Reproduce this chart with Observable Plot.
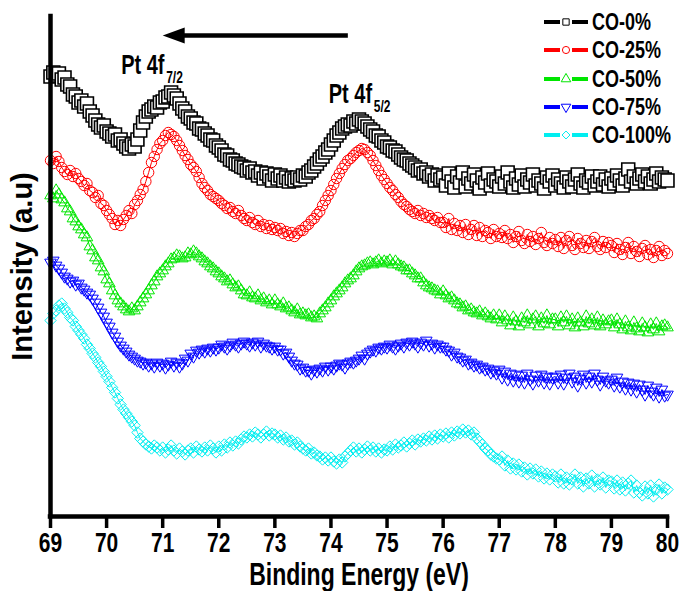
<!DOCTYPE html>
<html>
<head>
<meta charset="utf-8">
<script src="https://cdn.jsdelivr.net/npm/d3@7"></script>
<script src="https://cdn.jsdelivr.net/npm/@observablehq/plot@0.6"></script>
<style>
  body { margin: 0; background: #fff; }
  #wrap { position: relative; width: 680px; height: 591px; overflow: hidden; }
  #legend { position: absolute; left: 540px; top: 8px; font-family: "Liberation Sans", Arial, sans-serif; font-weight: bold; }
  .lg-row { position: absolute; left: 0; height: 28px; width: 140px; display: flex; align-items: center; white-space: nowrap; }
  .lg-row span { display: inline-block; font-size: 18px; color: #000; margin-left: 2px; line-height: 28px; transform: scaleY(1.35); transform-origin: 0 55%; }
</style>
</head>
<body>
<div id="wrap"><div id="chart"></div><div id="legend"></div></div>
<script>
// ---- energy grid (eV) ----
const eStart = 69;
const eStep = 0.05;
const xTicks = [69, 70, 71, 72, 73, 74, 75, 76, 77, 78, 79, 80];

// ---- series (intensity, a.u.), one value every 0.05 eV from 69.00 to 80.00 ----
const co0 = [
  440,444,441,443,437,439,432,430,422,420,414,416,410,413,405,401,396,392,389,391,
  385,383,380,382,376,377,373,370,368,372,370,377,386,394,400,405,407,410,409,414,
  415,419,420,424,421,418,413,408,405,400,398,394,393,388,387,383,381,377,376,371,
  369,366,362,361,357,356,353,352,350,349,346,348,344,345,341,344,338,343,340,336,
  342,338,341,336,339,335,338,336,339,337,341,340,344,346,350,353,357,360,364,367,
  372,376,381,384,388,390,392,391,395,393,397,395,393,390,387,385,381,380,376,374,
  370,369,366,365,362,359,357,356,353,351,349,346,347,343,344,340,342,336,341,337,
  339,331,343,335,329,340,334,344,330,338,333,342,336,328,339,334,343,331,337,335,
  330,340,333,344,335,329,338,332,341,330,337,334,342,331,336,333,328,339,335,341,
  331,337,333,329,339,335,330,337,342,333,329,336,334,340,331,335,340,332,337,330,
  338,333,341,336,331,338,347,335,340,333,338,342,335,340,333,337,343,335,339,337,
  336
];
const co25 = [
  356,353,360,355,349,345,342,346,340,343,338,335,331,333,326,324,319,321,313,311,
  306,302,298,292,296,291,297,301,306,303,312,316,322,327,335,344,354,360,367,373,
  376,381,384,382,380,376,371,366,361,357,352,349,345,339,333,329,326,322,320,318,
  316,313,311,308,309,305,303,306,301,298,296,299,294,292,296,290,292,288,291,287,
  289,286,288,283,285,281,284,280,283,286,286,290,292,296,298,302,305,311,316,321,
  326,332,338,343,348,352,356,358,361,364,366,368,367,364,361,356,351,346,341,337,
  333,329,326,322,319,315,312,310,307,305,303,306,301,303,299,301,298,296,299,294,
  294,289,298,287,293,286,291,284,292,282,287,291,281,289,280,286,284,278,287,280,
  283,279,286,278,282,274,280,285,276,273,282,275,280,272,278,284,274,271,279,273,
  277,270,279,268,276,280,271,267,278,273,269,276,268,275,279,270,267,275,269,274,
  271,264,273,267,262,269,274,263,270,265,260,268,271,262,267,259,266,270,261,266,
  263
];
const co50 = [
  321,318,326,322,317,314,308,305,298,295,290,287,282,279,270,266,259,256,249,245,
  237,233,226,221,216,213,210,207,205,208,206,210,214,218,222,226,231,235,240,243,
  246,250,253,257,258,261,260,258,259,263,262,265,263,260,258,255,253,250,248,245,
  243,240,238,235,236,232,229,230,226,222,221,224,219,218,221,216,218,214,216,212,
  216,212,210,213,208,209,206,204,207,202,203,201,202,199,200,198,203,206,209,213,
  216,220,223,226,229,233,236,238,241,245,248,250,251,253,254,252,254,256,253,255,
  254,256,252,255,252,250,249,246,246,243,241,238,238,234,231,229,228,226,225,222,
  225,221,218,219,216,213,212,209,210,206,207,204,203,205,201,203,200,198,201,197,
  201,194,200,196,191,199,195,190,198,194,201,192,197,200,190,198,193,201,192,197,
  197,190,199,194,200,191,197,189,198,194,190,200,193,197,191,199,190,196,192,195,
  196,189,197,192,187,195,189,186,194,188,185,193,189,184,192,187,193,185,190,191,
  189
];
const co75 = [
  254,256,251,248,244,240,238,235,236,232,233,229,227,224,222,218,214,209,204,200,
  194,190,184,180,175,171,168,165,162,160,158,156,155,153,154,151,153,150,154,151,
  153,149,152,155,151,154,150,153,158,156,163,160,166,164,167,165,168,166,169,167,
  169,172,170,168,171,174,172,170,173,175,173,171,174,172,175,170,173,171,170,168,
  170,167,167,163,164,160,156,153,152,148,149,146,146,143,147,145,148,146,150,147,
  150,148,151,153,152,149,153,155,154,156,158,161,158,163,165,167,166,169,168,170,
  169,172,170,168,171,173,170,174,172,175,173,170,174,172,176,171,173,169,172,170,
  170,167,166,162,164,160,159,156,157,153,154,151,152,149,150,147,148,144,146,143,
  147,139,145,137,143,136,142,135,141,134,143,137,133,141,136,142,134,140,133,139,
  140,134,142,133,139,143,135,140,131,138,142,134,140,135,143,137,132,140,136,134,
  137,131,139,130,135,128,134,127,133,125,132,127,122,131,125,122,129,120,127,121,
  122
];
const co100 = [
  196,203,206,211,213,208,204,199,196,190,186,182,178,172,168,163,159,154,150,145,
  140,135,129,124,118,112,107,103,99,95,91,84,78,75,72,70,68,71,69,66,
  69,64,67,71,66,63,68,65,62,66,68,64,70,67,65,69,66,71,68,64,
  70,66,72,69,74,71,75,73,77,80,79,82,80,84,82,79,82,85,81,83,
  82,79,81,77,79,75,76,72,74,70,68,66,68,63,64,61,60,57,59,56,
  59,55,53,57,54,60,63,66,69,65,68,64,67,70,66,69,65,68,64,67,
  66,70,67,72,69,71,74,70,73,76,72,77,75,78,76,80,77,81,78,82,
  80,83,79,84,81,85,83,87,84,86,82,84,78,75,72,68,66,62,60,58,
  57,60,51,56,48,53,47,52,45,49,42,48,43,47,40,45,38,43,37,42,
  40,34,42,33,39,32,37,42,33,39,30,38,33,41,30,37,32,39,29,36,
  35,28,36,27,34,26,33,36,24,31,24,21,30,23,31,20,27,32,23,29,
  27
];

// ---- series styling ----
const seriesNames   = ["CO-0%", "CO-25%", "CO-50%", "CO-75%", "CO-100%"];
const seriesColors  = ["#000000", "#ff0000", "#00e600", "#0000ff", "#00eef0"];
const seriesSymbols = ["square", "circle", "triangle", "triangle", "diamond2"];
const seriesRotate  = [0, 0, 0, 180, 0];
const seriesR       = [7.3, 5.2, 4.3, 4.3, 5.1];
const seriesFill    = ["white", "none", "none", "none", "none"];
const seriesValues  = [co0, co25, co50, co75, co100];

// ---- annotations ----
const peakLabels = [
  {E: 70.26, I: 445, main: "Pt 4f", sub: "7/2"},
  {E: 73.96, I: 416, main: "Pt 4f", sub: "5/2"}
];
const arrowShaft = [{E1: 71.3, E2: 74.31, I: 481}];
const arrowTip = [{E: 71.0, I: 481}];

const arrowHead = {
  draw(context) {
    context.moveTo(0, 0);
    context.lineTo(22, -8);
    context.lineTo(22, 8);
    context.closePath();
  }
};

const seriesData = seriesValues.map((arr, s) =>
  arr.map((v, i) => ({E: eStart + i * eStep, I: v, s: seriesNames[s]}))
);

const seriesMarks = [];
for (let s = seriesValues.length - 1; s >= 0; s--) {
  seriesMarks.push(Plot.line(seriesData[s], {x: "E", y: "I", stroke: seriesColors[s], strokeWidth: 1}));
  seriesMarks.push(Plot.dot(seriesData[s], {
    x: "E", y: "I", symbol: seriesSymbols[s], r: seriesR[s], rotate: seriesRotate[s],
    stroke: seriesColors[s], fill: seriesFill[s], strokeWidth: s === 0 ? 1.6 : 1
  }));
}

const font = '"Liberation Sans", Arial, sans-serif';

const chart = Plot.plot({
  width: 680,
  height: 591,
  marginLeft: 50,
  marginRight: 13,
  marginTop: 16,
  marginBottom: 75,
  style: {fontFamily: font, fontWeight: "bold", color: "#000", background: "#fff"},
  x: {domain: [69, 80]},
  y: {domain: [0, 500], axis: null},
  marks: [
    ...seriesMarks,
    Plot.axisX({ticks: xTicks, tickSize: 12, tickPadding: 6, strokeWidth: 3.5, fontSize: 21, fontWeight: "bold", label: null, tickFormat: d => String(d)}),
    Plot.ruleY([0], {strokeWidth: 4.5, strokeLinecap: "square"}),
    Plot.ruleX([69], {strokeWidth: 4.5, strokeLinecap: "square"}),
    Plot.ruleY(arrowShaft, {x1: "E1", x2: "E2", y: "I", strokeWidth: 4.5}),
    Plot.dot(arrowTip, {x: "E", y: "I", symbol: arrowHead, fill: "#000", stroke: "none"}),
    Plot.text(peakLabels, {x: "E", y: "I", text: "main", textAnchor: "start", lineAnchor: "bottom", fontSize: 20, fontWeight: "bold"}),
    Plot.text(peakLabels, {x: "E", y: "I", text: "sub", textAnchor: "start", lineAnchor: "bottom", fontSize: 12, fontWeight: "bold", dx: 45, dy: 10}),
    Plot.text(["Binding Energy (eV)"], {frameAnchor: "bottom", text: d => d, textAnchor: "middle", lineAnchor: "middle", dy: 58, fontSize: 23, fontWeight: "bold"}),
    Plot.text(["Intensity (a.u)"], {frameAnchor: "left", text: d => d, textAnchor: "middle", lineAnchor: "middle", rotate: -90, dx: -28, fontSize: 29, fontWeight: "bold"})
  ]
});
document.getElementById("chart").appendChild(chart);

// the original figure is stretched vertically: stretch horizontal texts the same way,
// about each text's own vertical centre
const stretch = 1.35;
chart.querySelectorAll("text").forEach(t => {
  if (t.textContent === "Intensity (a.u)") return;
  const b = t.getBBox();
  const cy = b.y + b.height / 2;
  const tr = t.getAttribute("transform") || "";
  t.setAttribute("transform", `${tr} translate(0,${cy}) scale(1,${stretch}) translate(0,${-cy})`);
});

// ---- legend ----
const legend = d3.select("#legend");
const rowTops = seriesNames.map((_, i) => i * 28.3);
const symMap = {square: d3.symbolSquare, circle: d3.symbolCircle, triangle: d3.symbolTriangle, diamond2: d3.symbolDiamond2};
seriesNames.forEach((name, i) => {
  const row = legend.append("div").attr("class", "lg-row").style("top", rowTops[i] + "px");
  const svg = row.append("svg").attr("width", 50).attr("height", 28);
  svg.append("line").attr("x1", 4).attr("x2", 20).attr("y1", 14).attr("y2", 14)
    .attr("stroke", seriesColors[i]).attr("stroke-width", 4);
  svg.append("line").attr("x1", 32).attr("x2", 48).attr("y1", 14).attr("y2", 14)
    .attr("stroke", seriesColors[i]).attr("stroke-width", 4);
  svg.append("path").attr("d", d3.symbol(symMap[seriesSymbols[i]], 40)())
    .attr("transform", `translate(26,14) rotate(${seriesRotate[i]})`)
    .attr("fill", "white").attr("stroke", seriesColors[i]).attr("stroke-width", 1);
  row.append("span").text(name);
});
</script>
</body>
</html>
